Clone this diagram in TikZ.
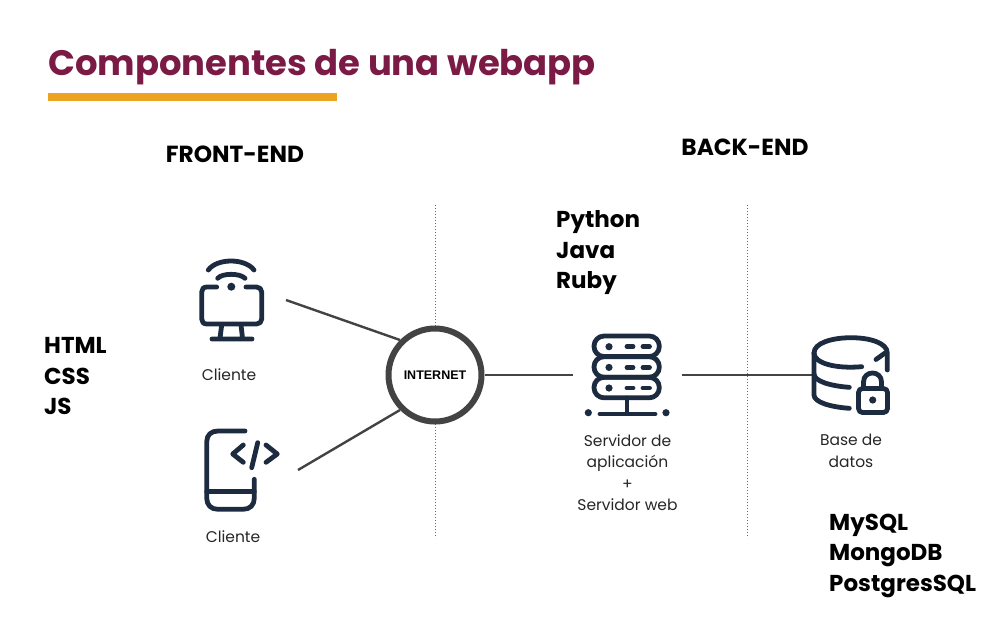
\documentclass[tikz,border=0pt]{standalone}
\usepackage{fontspec}
\setmainfont{Poppins}
\newfontfamily\labelfont{Liberation Sans}
\definecolor{titlecol}{HTML}{7B1B45}
\definecolor{rulecol}{HTML}{EBA320}
\definecolor{linecol}{HTML}{434343}
\definecolor{iconcol}{HTML}{1C2B3F}
\tikzset{
  icon/.style={draw=iconcol,line width=4.8pt,line cap=round,line join=round},
  icondot/.style={fill=iconcol},
  link/.style={draw=linecol,line width=2.4pt},
  divider/.style={draw=linecol!80,line width=1pt,dotted},
  heading/.style={font=\fontsize{23.3}{26}\selectfont\bfseries,text=black,inner sep=0pt},
  techlist/.style={font=\fontsize{23}{30.5}\selectfont\bfseries,text=black,inner sep=0pt,align=left,anchor=west},
  caption/.style={font=\fontsize{15.5}{21.5}\selectfont,text=black!85,inner sep=0pt,align=center,anchor=north}
}
\begin{document}
\begin{tikzpicture}[x=1pt,y=-1pt]
  \useasboundingbox (0,0) rectangle (1003,625);
  \node[anchor=base west,inner sep=0pt,text=titlecol,font=\fontsize{35.4}{40}\selectfont\bfseries] (title) at (48,75.5) {Componentes de una webapp};
  \fill[rulecol] (48,93) rectangle (337,101);
  \node[heading] (front) at (235,154) {FRONT-END};
  \node[heading] (back) at (745,147) {BACK-END};
  \node[techlist] (langs) at (44,376) {HTML\\CSS\\JS};
  \node[techlist] (server langs) at (556,253) {Python\\Java\\Ruby};
  \node[techlist] (db langs) at (829,555.5) {MySQL\\MongoDB\\PostgresSQL};
  % dotted separators
  \coordinate (sep1 top) at (435,205); \coordinate (sep1 bottom) at (435,538);
  \coordinate (sep2 top) at (747,205); \coordinate (sep2 bottom) at (747,538);
  \draw[divider] (sep1 top)--(sep1 bottom);
  \draw[divider] (sep2 top)--(sep2 bottom);
  % internet
  \node[circle,draw=linecol,fill=white,line width=6pt,minimum size=93pt,inner sep=0pt,font=\fontsize{12.5}{14}\selectfont\bfseries\labelfont] (internet) at (435,375) {INTERNET};
  \coordinate (desktop) at (286,300);
  \coordinate (phone) at (298,470);
  \coordinate (server in) at (573,375);
  \coordinate (server out) at (682,375);
  \coordinate (database) at (813,375);
  \draw[link] (desktop)--(internet.135);
  \draw[link] (phone)--(internet.225);
  \draw[link] (internet.east)--(server in);
  \draw[link] (server out)--(database);
  % desktop icon
  \draw[icon] (216.7,287)--(207,287) .. controls (203.5,287) and (201.7,289) .. (201.7,292)--(201.7,319) .. controls (201.7,322) and (203.5,324) .. (207,324)--(256.5,324) .. controls (259.5,324) and (261.7,322) .. (261.7,319)--(261.7,292) .. controls (261.7,289) and (259.5,287) .. (256.5,287)--(246,287);
  \draw[icon] (221.7,325)--(220,338) (241,325)--(242.5,338) (212,339)--(252,339);
  \fill[icondot] (231.3,286.7) circle (4);
  \draw[icon] (217.7,278.3) .. controls (222,273) and (240,273) .. (245,278.3);
  \draw[icon] (208.3,270) .. controls (217,258) and (245,258) .. (254,270);
  \node[caption] (client1) at (229,368) {Cliente};
  % phone icon
  \draw[icon] (245,431)--(218,431) .. controls (211,431) and (206.7,435) .. (206.7,442)--(206.7,498) .. controls (206.7,505) and (211,509.3) .. (218,509.3)--(243,509.3) .. controls (250,509.3) and (254.3,505) .. (254.3,498)--(254.3,479.3);
  \draw[icon] (206.7,491.7)--(254.3,491.7);
  \draw[icon] (243.3,445)--(232.7,454)--(243.3,462.3);
  \draw[icon] (266,445)--(277.3,454)--(266,462.3);
  \draw[icon] (257.7,442.7)--(251.7,467.7);
  \node[caption] (client2) at (233,530) {Cliente};
  % server icon
  \foreach \y in {336,356.7,377.3}{
    \draw[icon,rounded corners=10pt] (594,\y) rectangle (659.3,\y+20.5);
    \fill[icondot] (609,\y+10.7) circle (3.6);
    \draw[icon] (627,\y+10.7)--(633,\y+10.7) (643,\y+10.7)--(649.5,\y+10.7);
  }
  \draw[icon] (627,398)--(627,413) (600,414)--(655,414);
  \fill[icondot] (588.3,412.7) circle (3.6) (666,412.7) circle (3.6);
  \node[caption] (server) at (627.5,434) {Servidor de\\aplicación\\+\\Servidor web};
  % database icon
  \draw[icon] (861.7,366.7) .. controls (835,369) and (814,363) .. (814,353) .. controls (814,343) and (832,337.7) .. (851,337.7) .. controls (870,337.7) and (887.3,343) .. (887.3,353)--(887.3,370);
  \draw[icon] (876,359.5)--(885,353);
  \draw[icon] (814,353)--(814,395) .. controls (814,402) and (830,407) .. (849.3,408.3);
  \draw[icon] (814,374) .. controls (814,381) and (830,386) .. (849.3,387.3);
  \draw[icon,rounded corners=4pt] (858.5,388.5) rectangle (887.5,412.5);
  \draw[icon] (863.5,388) -- (863.5,382) .. controls (863.5,370) and (881.5,370) .. (881.5,382) -- (881.5,388);
  \fill[icondot] (872.7,400) circle (3.6);
  \node[caption] (db) at (851,434) {Base de\\datos};
\end{tikzpicture}
\end{document}
